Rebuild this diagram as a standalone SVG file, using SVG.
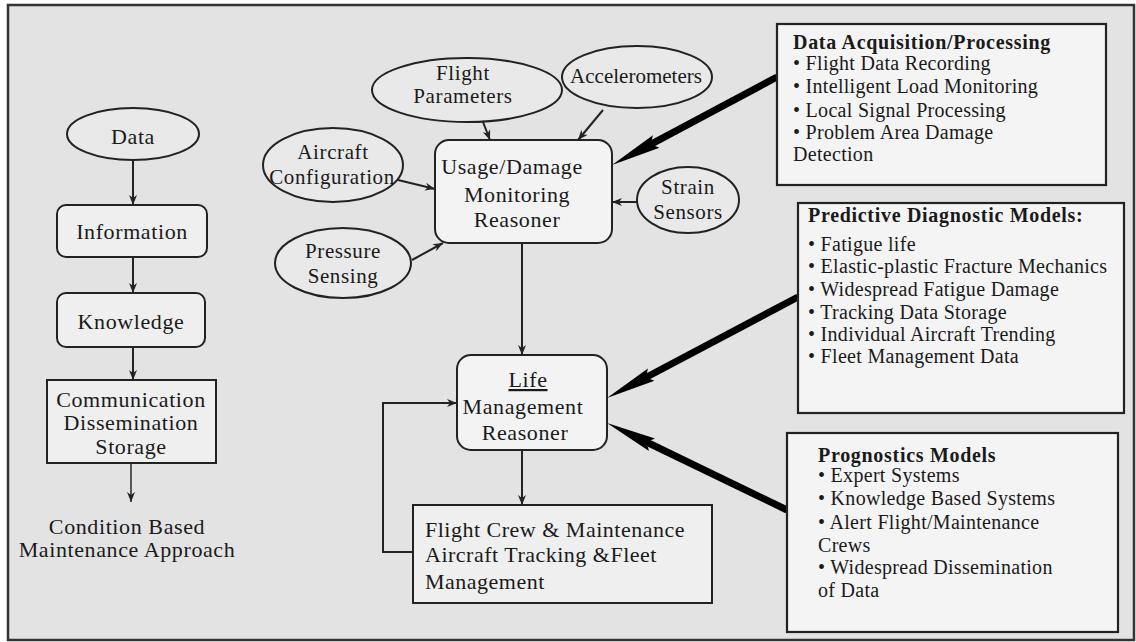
<svg xmlns="http://www.w3.org/2000/svg" width="1136" height="642" viewBox="0 0 1136 642">
<defs>
<style>
text{font-family:"Liberation Serif","Times New Roman",serif;fill:#1a1a1a;}
.t22{font-size:22px;text-anchor:middle;letter-spacing:0.6px;}
.t21{font-size:21px;text-anchor:middle;letter-spacing:0.6px;}
.t22l{font-size:22px;letter-spacing:0.5px;}
.t20{font-size:20px;letter-spacing:0.3px;}
.b{font-weight:bold;letter-spacing:0.7px;}
.node{fill:#efefef;stroke:#222;stroke-width:2;}
.ell{fill:#e9e9e9;stroke:#222;stroke-width:2;}
.panel{fill:#f4f4f4;stroke:#222;stroke-width:2.2;}
.thin{fill:none;stroke:#222;stroke-width:2;marker-end:url(#ah);}
.thick{fill:none;stroke:#000;stroke-width:7;marker-end:url(#big);}
</style>
<marker id="ah" markerUnits="userSpaceOnUse" viewBox="0 0 10 8" markerWidth="10" markerHeight="8" refX="10" refY="4" orient="auto">
<path d="M0,0 L10,4 L0,8 L3,4 z" fill="#222"/>
</marker>
<marker id="big" markerUnits="userSpaceOnUse" viewBox="0 0 50 16" markerWidth="50" markerHeight="16" refX="20" refY="8" orient="auto">
<path d="M0,1 L50,8 L0,15 L6,8 z" fill="#000"/>
</marker>
</defs>
<rect x="8" y="5" width="1126" height="635" fill="#e3e3e3" stroke="#333" stroke-width="2.5"/>

<g id="connectors">
<path class="thin" d="M133,160 L133,205"/>
<path class="thin" d="M133,257 L133,293"/>
<path class="thin" d="M133,347 L133,380"/>
<path class="thin" d="M131,463 L131,502" style="stroke:#555"/>
<path class="thin" d="M483,122 L490,140"/>
<path class="thin" d="M603,110 L578,140"/>
<path class="thin" d="M398,180 L435,189"/>
<path class="thin" d="M637,202 L612,202"/>
<path class="thin" d="M412,260 L443,243"/>
<path class="thin" d="M522,243 L522,355"/>
<path class="thin" d="M522,450 L522,505"/>
<path class="thin" d="M413,552 L383,552 L383,403 L457,403"/>
<path class="thick" d="M777,77 L638.5,150.9"/>
<path class="thick" d="M798,297 L633.5,384"/>
<path class="thick" d="M787,510 L634,436"/>
</g>

<g id="data">
<ellipse class="ell" cx="133" cy="134" rx="66" ry="26"/>
<text class="t22" x="133" y="144">Data</text>
</g>
<g id="information">
<rect class="node" x="57" y="205" width="150" height="52" rx="9"/>
<text class="t22" x="132" y="239">Information</text>
</g>
<g id="knowledge">
<rect class="node" x="57" y="293" width="148" height="54" rx="9"/>
<text class="t22" x="131" y="329">Knowledge</text>
</g>
<g id="communication">
<rect class="node" x="47" y="380" width="169" height="83"/>
<text class="t22" x="131" y="407">Communication</text>
<text class="t22" x="131" y="430">Dissemination</text>
<text class="t22" x="131" y="454">Storage</text>
</g>
<g id="cbm">
<text class="t22" x="127" y="534">Condition Based</text>
<text class="t22" x="127" y="557">Maintenance Approach</text>
</g>

<g id="flight-parameters">
<ellipse class="ell" cx="467" cy="90" rx="95" ry="32"/>
<text class="t21" x="463" y="80">Flight</text>
<text class="t21" x="463" y="103">Parameters</text>
</g>
<g id="accelerometers">
<ellipse class="ell" cx="637" cy="77" rx="75" ry="31"/>
<text class="t21" x="636" y="83" style="letter-spacing:0">Accelerometers</text>
</g>
<g id="aircraft-configuration">
<ellipse class="ell" cx="333" cy="165" rx="70" ry="37"/>
<text class="t21" x="333" y="159">Aircraft</text>
<text class="t21" x="332" y="184">Configuration</text>
</g>
<g id="usage-damage">
<rect class="node" x="435" y="140" width="177" height="103" rx="14" style="fill:#f3f3f3"/>
<text class="t22" x="512" y="174">Usage/Damage</text>
<text class="t22" x="517" y="202">Monitoring</text>
<text class="t22" x="517" y="227">Reasoner</text>
</g>
<g id="strain-sensors">
<ellipse class="ell" cx="688" cy="200" rx="51" ry="33"/>
<text class="t21" x="688" y="194">Strain</text>
<text class="t21" x="688" y="219">Sensors</text>
</g>
<g id="pressure-sensing">
<ellipse class="ell" cx="343" cy="263" rx="68" ry="35"/>
<text class="t21" x="343" y="258">Pressure</text>
<text class="t21" x="343" y="283">Sensing</text>
</g>
<g id="life-management">
<rect class="node" x="457" y="355" width="150" height="95" rx="14" style="fill:#f3f3f3"/>
<text class="t22" x="528" y="387" text-decoration="underline">Life</text>
<text class="t22" x="523" y="414">Management</text>
<text class="t22" x="525" y="440">Reasoner</text>
</g>
<g id="flight-crew">
<rect class="node" x="413" y="505" width="299" height="98"/>
<text class="t22l" x="425" y="537">Flight Crew &amp; Maintenance</text>
<text class="t22l" x="425" y="562">Aircraft Tracking &amp;Fleet</text>
<text class="t22l" x="425" y="589">Management</text>
</g>

<g id="data-acquisition">
<rect class="panel" x="777" y="24" width="329" height="161"/>
<text class="t20 b" x="793" y="49">Data Acquisition/Processing</text>
<text class="t20" x="793" y="70">•  Flight Data Recording</text>
<text class="t20" x="793" y="93">• Intelligent Load Monitoring</text>
<text class="t20" x="793" y="117">• Local Signal Processing</text>
<text class="t20" x="793" y="139">• Problem Area Damage</text>
<text class="t20" x="793" y="161">Detection</text>
</g>
<g id="predictive-models">
<rect class="panel" x="798" y="203" width="326" height="210"/>
<text class="t20 b" x="808" y="222">Predictive Diagnostic Models:</text>
<text class="t20" x="808" y="251">• Fatigue life</text>
<text class="t20" x="808" y="273">• Elastic-plastic Fracture Mechanics</text>
<text class="t20" x="808" y="296">• Widespread Fatigue Damage</text>
<text class="t20" x="808" y="319">• Tracking Data Storage</text>
<text class="t20" x="808" y="341">• Individual Aircraft Trending</text>
<text class="t20" x="808" y="363">• Fleet Management Data</text>
</g>
<g id="prognostics-models">
<rect class="panel" x="787" y="433" width="331" height="199"/>
<text class="t20 b" x="818" y="462">Prognostics Models</text>
<text class="t20" x="818" y="482">• Expert Systems</text>
<text class="t20" x="818" y="505">• Knowledge Based Systems</text>
<text class="t20" x="818" y="529">• Alert Flight/Maintenance</text>
<text class="t20" x="818" y="552">Crews</text>
<text class="t20" x="818" y="574">• Widespread Dissemination</text>
<text class="t20" x="818" y="597">of Data</text>
</g>
</svg>
